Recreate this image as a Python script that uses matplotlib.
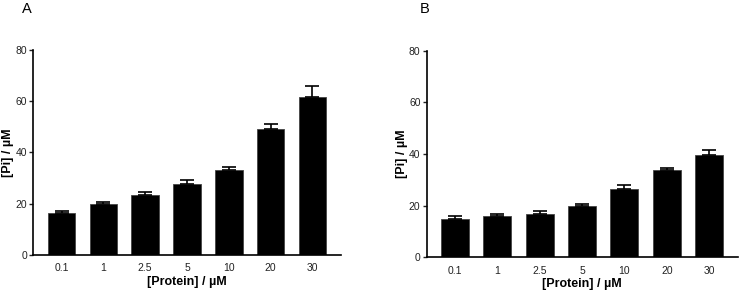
import matplotlib
matplotlib.use("Agg")
import matplotlib.pyplot as plt
import numpy as np

plt.rcParams["font.family"] = ["Liberation Sans", "DejaVu Sans"]

# Data
protein = ["0.1", "1", "2.5", "5", "10", "20", "30"]
pi_a = [16.5, 19.9, 23.5, 27.7, 33.3, 49.0, 61.8]
err_a = [0.5, 0.8, 1.0, 1.4, 1.0, 2.0, 4.0]
pi_b = [15.0, 16.1, 16.8, 19.7, 26.3, 33.7, 39.7]
err_b = [0.9, 0.8, 1.0, 1.1, 1.6, 0.7, 2.0]


def draw_panel(ax, values, errors):
    x = np.arange(len(protein))
    ax.bar(x, values, width=0.66, color="black", edgecolor="#444444", linewidth=0.6,
           yerr=[np.zeros(len(errors)), errors],
           error_kw=dict(ecolor="black", elinewidth=1.2, capsize=5, capthick=1.2))
    ax.set_xlim(-0.67, len(protein) - 1 + 0.68)
    ax.set_ylim(0, 80)
    ax.set_yticks([0, 20, 40, 60, 80])
    ax.set_xticks(x)
    ax.set_xticklabels(protein)
    ax.tick_params(axis="x", length=0, labelsize=7.5, pad=6, colors="#222222")
    ax.tick_params(axis="y", length=3, width=1, labelsize=7.5, pad=1.5, colors="#222222")
    for s in ["top", "right"]:
        ax.spines[s].set_visible(False)
    for s in ["left", "bottom"]:
        ax.spines[s].set_linewidth(1.2)
    ax.set_xlabel("[Protein] / µM", fontsize=9, fontweight="bold", labelpad=2)
    ax.set_ylabel("[Pi] / µM", fontsize=9, fontweight="bold", labelpad=1)


def main():
    fig = plt.figure(figsize=(7.39, 2.91), dpi=100)
    ax_a = fig.add_axes([0.0453, 0.1237, 0.416, 0.7045])
    ax_b = fig.add_axes([0.5775, 0.1158, 0.421, 0.710])
    draw_panel(ax_a, pi_a, err_a)
    draw_panel(ax_b, pi_b, err_b)
    fig.text(21.5 / 739, 1 - 9 / 291, "A", fontsize=10.5, va="center")
    fig.text(420 / 739, 1 - 9 / 291, "B", fontsize=10.5, va="center")
    fig.savefig("out.png", dpi=100)
    plt.close(fig)


if __name__ == "__main__":
    main()
